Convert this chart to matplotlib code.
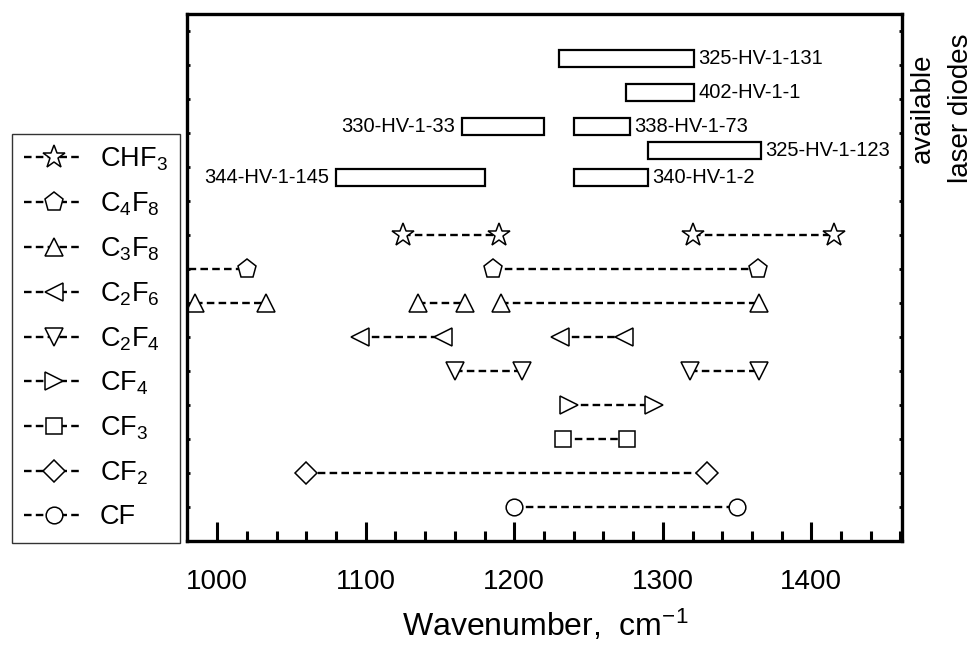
import numpy as np
import matplotlib
matplotlib.use("Agg")
import matplotlib.pyplot as plt
from matplotlib.ticker import MultipleLocator

plt.rcParams['font.family'] = ['Liberation Sans', 'DejaVu Sans']
plt.rcParams['mathtext.fontset'] = 'custom'
plt.rcParams['mathtext.rm'] = 'Liberation Sans'
plt.rcParams['mathtext.it'] = 'Liberation Sans:italic'
plt.rcParams['mathtext.bf'] = 'Liberation Sans:bold'

nan = np.nan

# absorption bands of each species (cm^-1), nan breaks the dashed segments
species = ['CHF$_3$', 'C$_4$F$_8$', 'C$_3$F$_8$', 'C$_2$F$_6$', 'C$_2$F$_4$',
           'CF$_4$', 'CF$_3$', 'CF$_2$', 'CF']
markers = ['*', 'p', '^', '<', 'v', '>', 's', 'D', 'o']
marker_sizes = [17, 14, 13, 13, 13, 13, 11, 11, 12]
rows = [9, 8, 7, 6, 5, 4, 3, 2, 1]
bands = [
    [1125, 1190, nan, 1320, 1415],
    [965, 1020, nan, 1186, 1364],
    [985, 1033, nan, 1135, 1167, nan, 1191, 1365],
    [1096, 1152, nan, 1231, 1274],
    [1160, 1205, nan, 1318, 1365],
    [1237, 1294],
    [1233, 1276],
    [1060, 1330],
    [1200, 1350],
]

# laser diodes: name, start, end (cm^-1), row, label side
diode_names = ['325-HV-1-131', '402-HV-1-1', '338-HV-1-73', '330-HV-1-33',
               '325-HV-1-123', '340-HV-1-2', '344-HV-1-145']
diode_start = [1230, 1275, 1240, 1165, 1290, 1240, 1080]
diode_end = [1321, 1321, 1278, 1220, 1366, 1290, 1180]
diode_row = [14.2, 13.2, 12.2, 12.2, 11.5, 10.7, 10.7]
diode_side = ['right', 'right', 'right', 'left', 'right', 'right', 'left']

fig = plt.figure(figsize=(9.75, 6.46), dpi=100)
ax = fig.add_axes([0.1923, 0.1625, 0.7328, 0.8158])

for name, xs, y, m, ms in zip(species, bands, rows, markers, marker_sizes):
    xs = np.array(xs, dtype=float)
    ax.plot(xs, np.full_like(xs, y), linestyle=(0, (3.2, 1.8)), color='black',
            linewidth=1.7, marker=m, markersize=ms, markerfacecolor='white',
            markeredgecolor='black', markeredgewidth=1.1, label=name)

widths = np.array(diode_end) - np.array(diode_start)
ax.barh(diode_row, widths, left=diode_start, height=0.5, color='white',
        edgecolor='black', linewidth=1.6, zorder=3)
for name, x0, x1, y, side in zip(diode_names, diode_start, diode_end,
                                 diode_row, diode_side):
    if side == 'right':
        ax.annotate(name, (x1, y), xytext=(3, 0), textcoords='offset points',
                    ha='left', va='center', fontsize=14.5)
    else:
        ax.annotate(name, (x0, y), xytext=(-5, 0), textcoords='offset points',
                    ha='right', va='center', fontsize=14.5)

ax.set_xlim(980, 1461)
ax.set_ylim(0, 15.5)
ax.xaxis.set_major_locator(MultipleLocator(100))
ax.xaxis.set_minor_locator(MultipleLocator(20))
ax.set_yticks(np.arange(1, 16))
ax.set_yticklabels([])
ax.tick_params(axis='x', which='major', direction='in', length=14, width=2.2,
               labelsize=20, pad=20, top=False)
ax.tick_params(axis='x', which='minor', direction='in', length=7, width=2.2,
               top=False)
ax.tick_params(axis='y', which='major', direction='in', length=2.5, width=2,
               left=True, right=True)
for sp in ax.spines.values():
    sp.set_linewidth(2.4)

ax.set_xlabel('Wavenumber,  cm$^{-1}$', fontsize=23, labelpad=9)

fig.text(0.966, 0.833, 'available\nlaser diodes', rotation=90, ha='center',
         va='center', fontsize=20, linespacing=1.6)

leg = fig.legend(loc='lower left', bbox_to_anchor=(0.012, 0.16),
                 bbox_transform=fig.transFigure, fontsize=19.5, frameon=True,
                 fancybox=False, edgecolor='black', numpoints=1,
                 handlelength=2.2, handletextpad=0.6, labelspacing=0.64,
                 borderpad=0.45, borderaxespad=0)
leg.get_frame().set_linewidth(1.0)

fig.savefig('out.png', dpi=100)
